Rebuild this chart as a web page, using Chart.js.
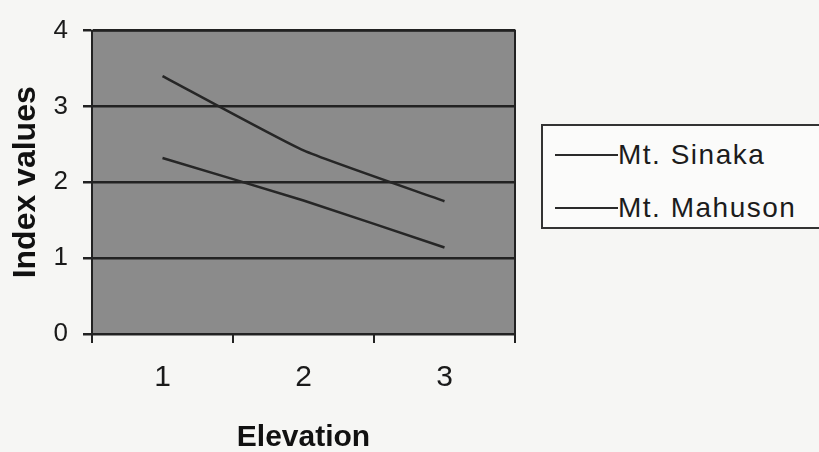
<!DOCTYPE html>
<html>
<head>
<meta charset="utf-8">
<script src="https://cdn.jsdelivr.net/npm/chart.js@4.4.1/dist/chart.umd.min.js"></script>
<style>
  html, body { margin: 0; padding: 0; background: #f6f6f4; overflow: hidden; }
  #wrap { position: relative; width: 819px; height: 452px; }
  #legend {
    position: absolute; left: 541px; top: 124px; width: 300px; height: 101px;
    border: 2px solid #333; box-sizing: content-box; background: #fbfbfa;
    font-family: "Liberation Sans", Arial, sans-serif; font-size: 28px; color: #1c1c1c;
    letter-spacing: 1.5px;
  }
  .item { position: absolute; left: 12px; height: 30px; display: flex; align-items: center; }
  .item span.ln { display: inline-block; width: 63px; height: 2px; background: #2a2a2a; }
</style>
</head>
<body>
<div id="wrap">
  <canvas id="indexChart" width="819" height="452"></canvas>
  <div id="legend"></div>
</div>
<script>
// data
const elevations = ['1', '2', '3'];
const seriesNames = ['Mt. Sinaka', 'Mt. Mahuson'];
const sinaka = [3.4, 2.42, 1.75];
const mahuson = [2.32, 1.76, 1.14];
const yTicks = [0, 1, 2, 3, 4];

const ink = '#222';
const font = '"Liberation Sans", Arial, sans-serif';

// gray plot background + frame
const plotFrame = {
    id: 'plotFrame',
    beforeDraw(chart) {
        const a = chart.chartArea, ctx = chart.ctx;
        ctx.save();
        ctx.fillStyle = '#8b8b8b';
        ctx.fillRect(a.left, a.top, a.right - a.left, a.bottom - a.top);
        ctx.restore();
    },
    afterDraw(chart) {
        const a = chart.chartArea, ctx = chart.ctx;
        ctx.save();
        ctx.strokeStyle = ink;
        ctx.lineWidth = 2;
        ctx.strokeRect(a.left, a.top, a.right - a.left, a.bottom - a.top);
        ctx.restore();
    }
};

const ctx = document.getElementById('indexChart').getContext('2d');
new Chart(ctx, {
    type: 'line',
    data: {
        labels: elevations,
        datasets: [{
            label: seriesNames[0],
            data: sinaka,
            borderColor: '#262626',
            borderWidth: 2.5,
            pointRadius: 0,
            tension: 0.15,
            fill: false
        }, {
            label: seriesNames[1],
            data: mahuson,
            borderColor: '#262626',
            borderWidth: 2.5,
            pointRadius: 0,
            tension: 0.15,
            fill: false
        }]
    },
    options: {
        responsive: false,
        animation: false,
        layout: { padding: { top: 27, right: 304, left: 0, bottom: 0 } },
        plugins: { legend: { display: false }, tooltip: { enabled: false } },
        scales: {
            x: {
                offset: true,
                grid: { offset: true, drawOnChartArea: false, color: ink, lineWidth: 2, tickLength: 9 },
                border: { color: ink, width: 2 },
                ticks: { color: '#1a1a1a', font: { family: font, size: 30 }, padding: 17 },
                title: { display: true, text: 'Elevation', color: '#111', font: { family: font, size: 30, weight: 'bold' }, padding: { top: 0, bottom: -4 } },
                afterFit(s) { s.height = 118; }
            },
            y: {
                min: 0,
                max: 4,
                afterBuildTicks(s) { s.ticks = yTicks.map(v => ({ value: v })); },
                grid: { color: ink, lineWidth: 2.5, tickLength: 9 },
                border: { color: ink, width: 2 },
                ticks: { color: '#1a1a1a', font: { family: font, size: 26 }, padding: 15 },
                title: { display: true, text: 'Index values', color: '#111', font: { family: font, size: 32, weight: 'bold' }, padding: { top: 7, bottom: 0 } },
                afterFit(s) { s.width = 92; }
            }
        }
    },
    plugins: [plotFrame]
});

// legend box on the right
const legendEl = document.getElementById('legend');
seriesNames.forEach((name, i) => {
    const row = document.createElement('div');
    row.className = 'item';
    row.style.top = (i === 0 ? 14 : 67) + 'px';
    row.innerHTML = '<span class="ln"></span><span>' + name + '</span>';
    legendEl.appendChild(row);
});
</script>
</body>
</html>
